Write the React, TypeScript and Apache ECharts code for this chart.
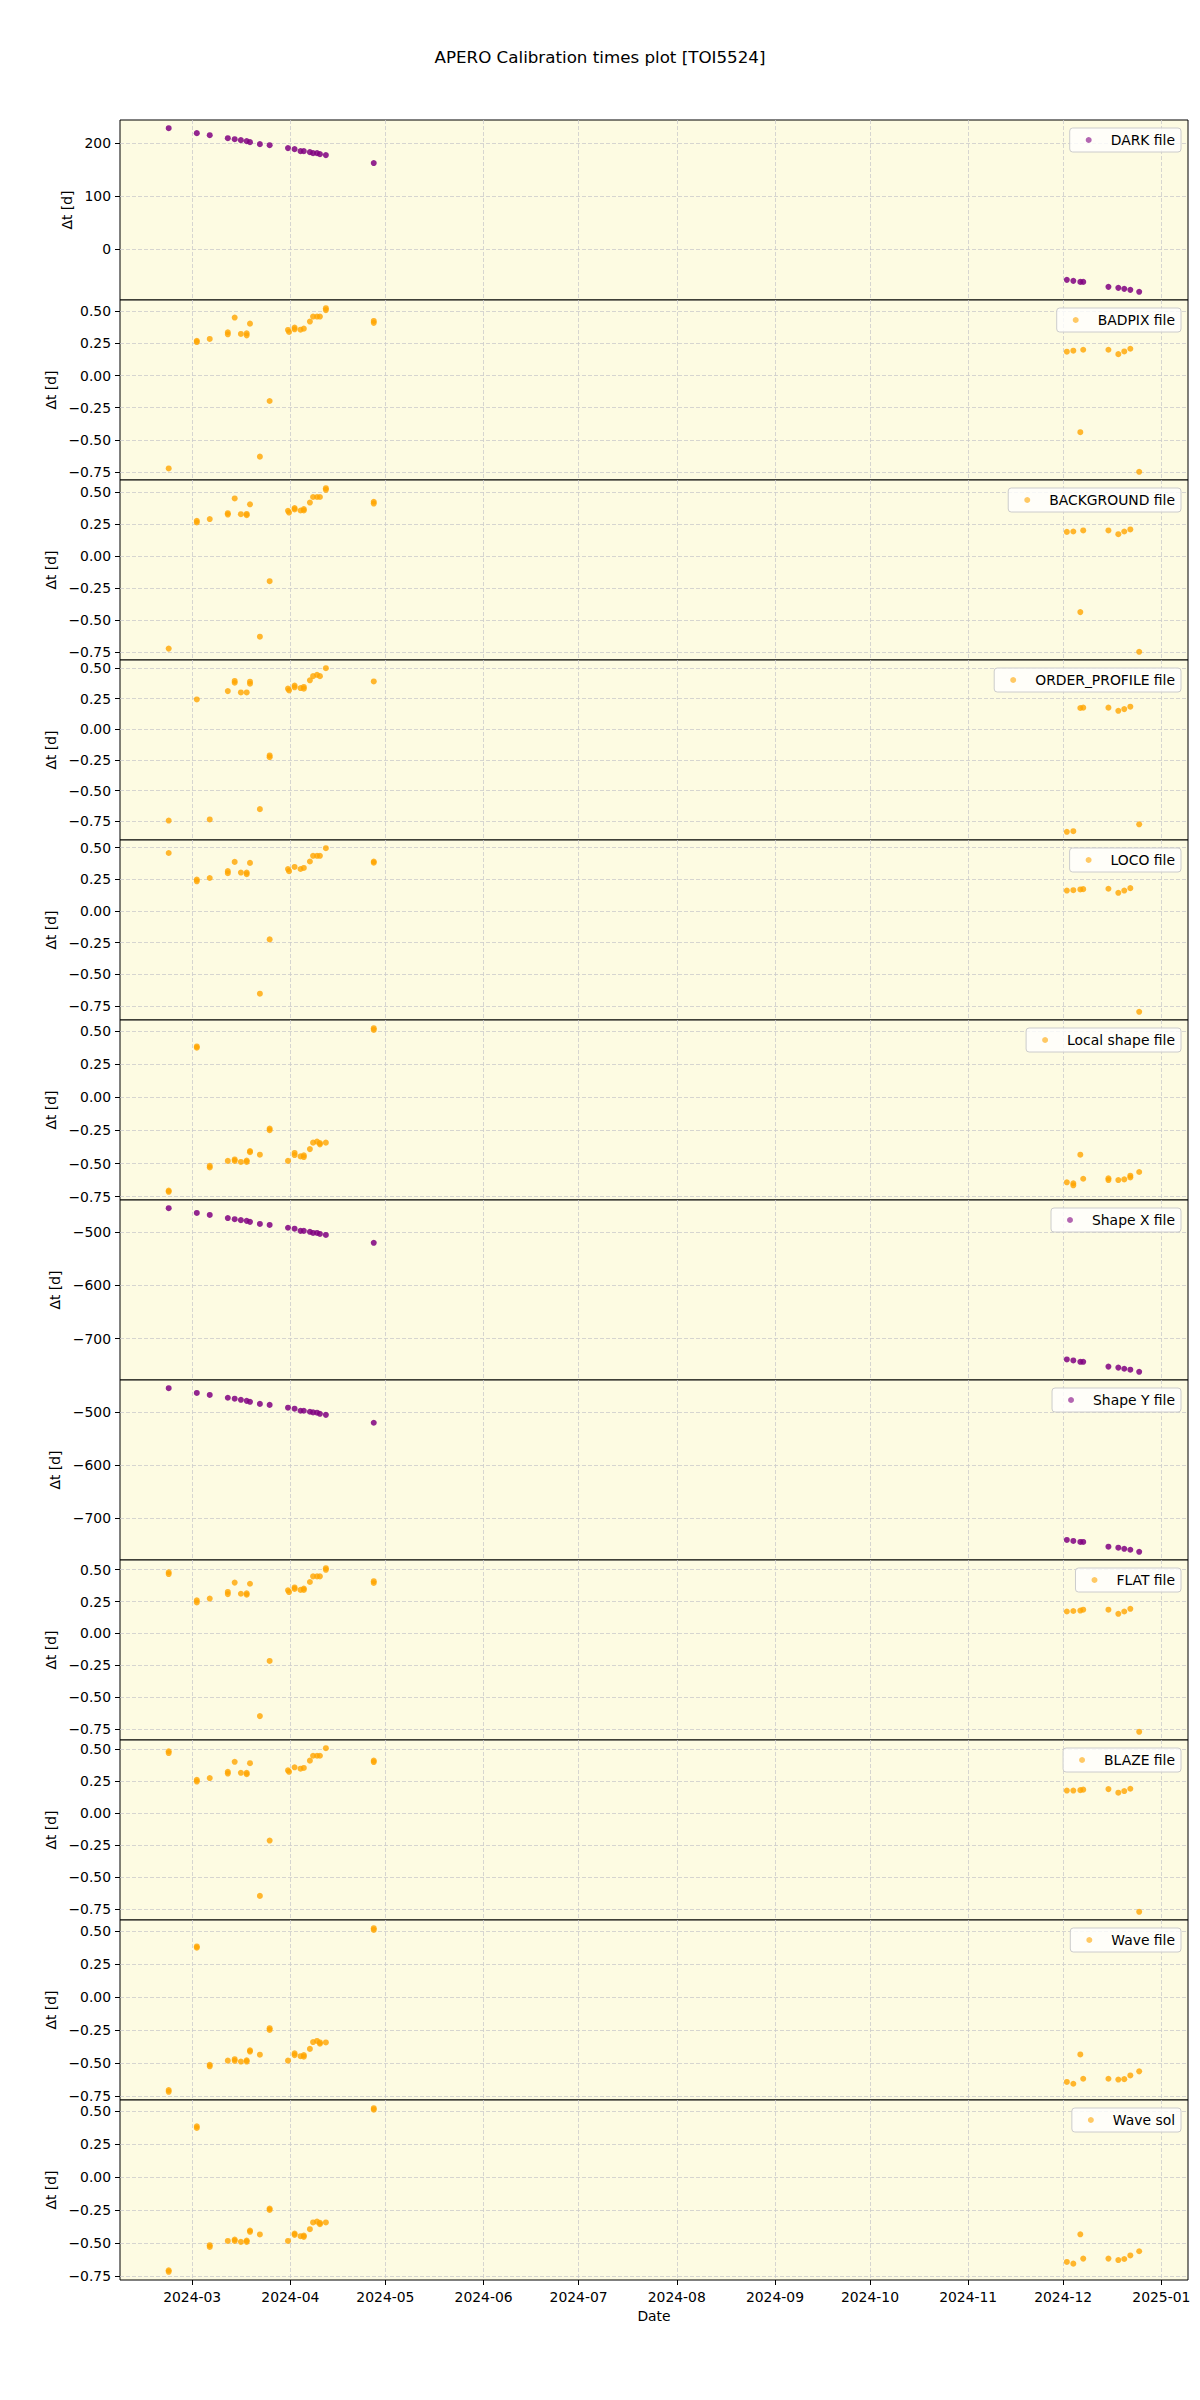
import React, { useEffect, useRef } from 'react';
import * as echarts from 'echarts';

type V = number | number[] | null;

// Observation dates (x positions shared by all panels)
const obsDates: string[] = [
  '2024-02-22 14:00', '2024-03-02 11:00', '2024-03-06 13:00', '2024-03-12 06:00', '2024-03-14 10:00',
  '2024-03-16 09:00', '2024-03-18 05:00', '2024-03-19 06:00', '2024-03-22 09:00', '2024-03-25 11:00',
  '2024-03-31 06:00', '2024-03-31 14:00', '2024-04-02 08:00', '2024-04-04 05:00', '2024-04-05 06:00',
  '2024-04-07 04:00', '2024-04-08 04:00', '2024-04-09 10:00', '2024-04-10 08:00', '2024-04-12 05:00',
  '2024-04-27 08:00',
  '2024-12-02 04:00', '2024-12-04 05:00', '2024-12-06 10:00', '2024-12-07 08:00', '2024-12-15 07:00',
  '2024-12-18 10:00', '2024-12-20 07:00', '2024-12-22 05:00', '2024-12-25 00:00',
];

const darkValues: V[] = [
  228.3, 218.9, 215, 209.4, 207.5, 205.7, 203.8, 201.9, 198.1, 196.2, 190.6, null, 188.7, 184.9, 184.9,
  183, 181.1, 181.1, 179.2, 177.4, 162.3,
  -58.5, -60.4, -62.3, -62.3, -71.7, -73.6, -75.5, -77.4, -81.1,
];
const badpixValues: V[] = [
  -0.722, [0.27, 0.26], 0.284, [0.336, 0.32], 0.45, 0.323, [0.328, 0.312], 0.403, -0.63, -0.198,
  0.354, 0.338, [0.372, 0.359], 0.356, 0.364, 0.419, 0.458, 0.458, 0.458, [0.523, 0.508], [0.424, 0.409],
  0.185, 0.193, -0.44, 0.2, 0.2, 0.166, 0.187, 0.208, -0.748,
];
const backgroundValues: V[] = [
  -0.723, [0.274, 0.261], 0.288, [0.334, 0.323], 0.449, 0.326, [0.328, 0.318], 0.403, -0.63, -0.197,
  0.352, 0.339, [0.374, 0.363], 0.355, [0.366, 0.355], 0.417, 0.46, 0.46, 0.46, [0.529, 0.516], [0.423, 0.409],
  0.188, 0.191, -0.438, 0.199, 0.199, 0.17, 0.191, 0.207, -0.748,
];
const orderProfileValues: V[] = [
  -0.745, 0.243, -0.736, 0.311, [0.394, 0.379], 0.3, 0.3, [0.388, 0.371], -0.652, [-0.214, -0.228],
  0.331, 0.317, [0.356, 0.342], 0.336, [0.345, 0.331], 0.399, 0.433, 0.444, 0.433, 0.498, 0.39,
  -0.837, -0.832, 0.173, 0.176, 0.176, 0.15, 0.164, 0.184, -0.776,
];
const locoValues: V[] = [
  0.457, [0.247, 0.234], 0.26, [0.314, 0.298], 0.387, 0.303, [0.303, 0.29], 0.379, -0.652, -0.224,
  0.33, 0.314, 0.347, 0.331, 0.339, 0.39, 0.435, 0.435, 0.435, 0.495, [0.39, 0.38],
  0.161, 0.164, 0.17, 0.172, 0.175, 0.143, 0.161, 0.18, -0.795,
];
const localShapeValues: V[] = [
  [-0.705, -0.714], [0.386, 0.376], [-0.517, -0.53], -0.48, [-0.469, -0.48], -0.488, [-0.477, -0.488],
  [-0.405, -0.414], -0.433, [-0.235, -0.248], -0.48, null, [-0.42, -0.436], -0.446, [-0.438, -0.451],
  -0.391, -0.342, -0.334, [-0.345, -0.355], -0.342, [0.524, 0.511],
  -0.642, [-0.649, -0.665], -0.433, -0.615, [-0.612, -0.625], -0.625, -0.62, [-0.592, -0.605], -0.564,
];
const shapeXValues: V[] = [
  -454.8, -463.8, -467.5, -473.4, -475.5, -477.3, -478.6, -480.5, -484.4, -486.3, -491.6, null, -493.4,
  -497.4, -497.4, -499.2, -501.3, -501.3, -503.2, -505.1, -519.9,
  -739, -740.9, -743.5, -743.5, -752.5, -754.4, -756.5, -758.3, -762.3,
];
const shapeYValues: V[] = [
  -455.5, -464.5, -468.2, -473.5, -475.3, -477.4, -479.3, -481.1, -485, -486.9, -492.1, null, -494,
  -497.9, -497.9, -499.8, -501, -501.5, -503.7, -505.6, -520.4,
  -740.6, -742.5, -744.4, -744.4, -753.3, -755.2, -757.2, -759, -762.9,
];
const flatValues: V[] = [
  [0.479, 0.465], [0.259, 0.243], 0.273, [0.325, 0.308], 0.398, 0.311, [0.314, 0.303], 0.389, -0.647, -0.215,
  0.338, 0.324, [0.36, 0.349], 0.341, [0.352, 0.341], 0.403, 0.447, 0.447, 0.447, [0.511, 0.498], [0.409, 0.395],
  0.172, 0.176, 0.179, 0.186, 0.186, 0.154, 0.172, 0.193, -0.77,
];
const blazeValues: V[] = [
  [0.482, 0.468], [0.259, 0.246], 0.273, [0.322, 0.308], 0.4, 0.314, [0.314, 0.303], 0.389, -0.645, -0.214,
  0.333, 0.322, 0.357, 0.346, 0.352, 0.409, 0.447, 0.447, 0.447, 0.506, [0.409, 0.398],
  0.176, 0.176, 0.179, 0.183, 0.187, 0.159, 0.172, 0.19, -0.769,
];
const waveFileValues: V[] = [
  [-0.703, -0.716], [0.385, 0.375], [-0.511, -0.523], -0.48, [-0.469, -0.481], -0.487, [-0.477, -0.487],
  [-0.402, -0.411], -0.435, [-0.234, -0.247], -0.48, null, [-0.425, -0.438], -0.446, [-0.438, -0.45],
  -0.391, -0.339, -0.331, [-0.342, -0.352], -0.342, [0.523, 0.51],
  -0.641, -0.655, -0.433, -0.617, -0.617, -0.623, -0.62, -0.592, -0.561,
];
const waveSolValues: V[] = [
  [-0.705, -0.717], [0.386, 0.373], [-0.515, -0.528], -0.483, [-0.472, -0.483], -0.49, [-0.48, -0.49],
  [-0.404, -0.414], -0.434, [-0.237, -0.248], -0.483, null, [-0.427, -0.437], -0.447, [-0.442, -0.452],
  -0.394, -0.343, -0.336, [-0.346, -0.356], -0.343, [0.523, 0.512],
  -0.642, -0.655, -0.433, -0.617, -0.617, -0.628, -0.62, -0.593, -0.561,
];

const panelNames = [
  'DARK file', 'BADPIX file', 'BACKGROUND file', 'ORDER_PROFILE file', 'LOCO file', 'Local shape file',
  'Shape X file', 'Shape Y file', 'FLAT file', 'BLAZE file', 'Wave file', 'Wave sol',
];
const panelValues: V[][] = [
  darkValues, badpixValues, backgroundValues, orderProfileValues, locoValues, localShapeValues,
  shapeXValues, shapeYValues, flatValues, blazeValues, waveFileValues, waveSolValues,
];
const panelIsPurple = [true, false, false, false, false, false, true, true, false, false, false, false];

const darkTicks = [0, 100, 200];
const shapeTicks = [-700, -600, -500];
const fracTicks = [-0.75, -0.5, -0.25, 0, 0.25, 0.5];
const panelTicks = [
  darkTicks, fracTicks, fracTicks, fracTicks, fracTicks, fracTicks,
  shapeTicks, shapeTicks, fracTicks, fracTicks, fracTicks, fracTicks,
];

const monthTicks = [
  '2024-03-01', '2024-04-01', '2024-05-01', '2024-06-01', '2024-07-01', '2024-08-01',
  '2024-09-01', '2024-10-01', '2024-11-01', '2024-12-01', '2025-01-01',
];

const X_MIN = '2024-02-07 05:00';
const X_MAX = '2025-01-09 10:00';

const FONT = 'DejaVu Sans';
const PURPLE = '#800080';
const ORANGE = '#FFA500';

function parseLocal(s: string): number {
  const [d, t] = s.split(' ');
  const [y, m, dd] = d.split('-').map(Number);
  let hh = 0, mm = 0;
  if (t) [hh, mm] = t.split(':').map(Number);
  return new Date(y, m - 1, dd, hh, mm).getTime();
}

export default function App() {
  const ref = useRef<HTMLDivElement>(null);

  useEffect(() => {
    if (!ref.current) return;
    const chart = echarts.init(ref.current, null, { renderer: 'svg' });

    const TOP0 = 120;
    const H = 180;
    const LEFT = 120;
    const W = 1068;
    const xMin = parseLocal(X_MIN);
    const xMax = parseLocal(X_MAX);
    const monthVals = monthTicks.map(parseLocal);
    const gridLine = { show: true, lineStyle: { color: '#cccccc', width: 0.8, type: [4, 2] } };

    const grids: any[] = [];
    const xAxes: any[] = [];
    const yAxes: any[] = [];
    const series: any[] = [];
    const legends: any[] = [];

    panelNames.forEach((name, i) => {
      const data: [number, number][] = [];
      panelValues[i].forEach((v, k) => {
        if (v === null) return;
        const arr = Array.isArray(v) ? v : [v];
        arr.forEach((y) => data.push([parseLocal(obsDates[k]), y]));
      });
      const ys = data.map((d) => d[1]);
      const lo = Math.min(...ys);
      const hi = Math.max(...ys);
      const m = (hi - lo) * 0.05;
      const ticks = panelTicks[i];
      const isFrac = ticks === fracTicks;
      const isLast = i === panelNames.length - 1;
      const top = TOP0 + H * i;

      grids.push({
        left: LEFT, top, width: W, height: H,
        show: true, backgroundColor: '#fdfbe2', borderColor: '#000', borderWidth: 1,
      });
      xAxes.push({
        type: 'value', gridIndex: i, min: xMin, max: xMax, position: 'bottom',
        axisLine: { show: false, onZero: false },
        axisTick: { show: isLast, customValues: monthVals, length: 5, lineStyle: { color: '#000' } },
        axisLabel: {
          show: isLast, customValues: monthVals, margin: 10,
          fontFamily: FONT, fontSize: 13.9, color: '#000',
          formatter: (val: number) => {
            const d = new Date(val);
            return d.getFullYear() + '-' + String(d.getMonth() + 1).padStart(2, '0');
          },
        },
        splitLine: gridLine,
        name: isLast ? 'Date' : '',
        nameLocation: 'middle', nameGap: 29,
        nameTextStyle: { fontFamily: FONT, fontSize: 13.9, color: '#000' },
      });
      yAxes.push({
        type: 'value', gridIndex: i, min: lo - m, max: hi + m, position: 'left',
        axisLine: { show: false, onZero: false },
        axisTick: { show: true, customValues: ticks, length: 5, lineStyle: { color: '#000' } },
        axisLabel: {
          customValues: ticks, margin: 9, fontFamily: FONT, fontSize: 13.9, color: '#000',
          formatter: (val: number) => {
            const abs = Math.abs(val);
            const s = isFrac ? abs.toFixed(2) : String(Math.round(abs));
            return (val < 0 ? '\u2212' : '') + s;
          },
        },
        splitLine: gridLine,
        name: '\u0394t [d]', nameLocation: 'middle',
        nameGap: i === 0 ? 44 : (ticks === shapeTicks ? 56 : 61),
        nameTextStyle: { fontFamily: FONT, fontSize: 13.9, color: '#000' },
      });
      const color = panelIsPurple[i] ? PURPLE : ORANGE;
      series.push({
        name, type: 'scatter', xAxisIndex: i, yAxisIndex: i, data,
        symbol: 'circle', symbolSize: 6,
        itemStyle: { color, opacity: panelIsPurple[i] ? 0.85 : 0.8 },
        emphasis: { disabled: true },
      });
      legends.push({
        data: [name], right: 19, top: top + 8, orient: 'horizontal',
        icon: 'circle', itemWidth: 6, itemHeight: 6, selectedMode: false,
        padding: [5, 6, 5, 16],
        backgroundColor: 'rgba(255,255,255,0.8)', borderColor: '#cccccc', borderWidth: 1, borderRadius: 3,
        itemStyle: { opacity: 0.6 },
        textStyle: { fontFamily: FONT, fontSize: 13.9, color: '#000', padding: [0, 0, 0, 14] },
      });
    });

    chart.setOption({
      animation: false,
      backgroundColor: '#ffffff',
      title: {
        text: 'APERO Calibration times plot [TOI5524]', left: 'center', top: 43,
        textStyle: { fontFamily: FONT, fontSize: 16.7, fontWeight: 'normal', color: '#000' },
      },
      grid: grids,
      xAxis: xAxes,
      yAxis: yAxes,
      legend: legends,
      series,
    });

    return () => chart.dispose();
  }, []);

  return (
    <div
      ref={ref}
      style={{ position: 'absolute', left: 0, top: 0, width: 1200, height: 2400, background: '#fff' }}
    />
  );
}
